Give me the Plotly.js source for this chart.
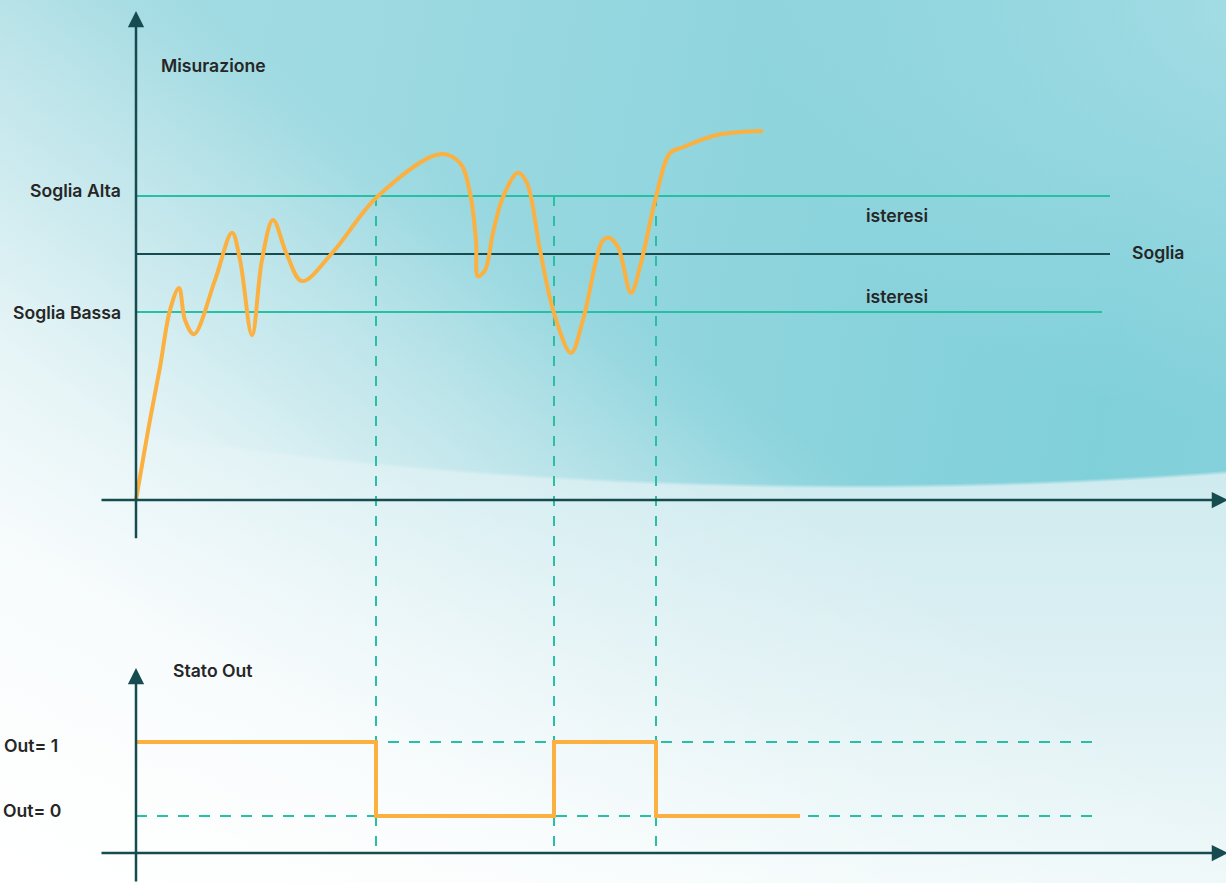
<!DOCTYPE html>
<html>
<head>
<meta charset="utf-8">
<script src="https://cdn.plot.ly/plotly-3.0.1.min.js"></script>
<style>
  html, body { margin: 0; padding: 0; overflow: hidden; background: #ffffff; }
  #wrap { position: relative; width: 1226px; height: 883px; overflow: hidden;
    background: linear-gradient(to bottom, #c3e6eb 0%, #cdeaee 48%, #d2ecf0 58%, #e0f1f4 80%, #eef8f9 100%); }
  #blob { position: absolute; left: 0; top: 0; width: 1226px; height: 883px;
    background:
      linear-gradient(to top right, rgba(205,234,238,1) 0%, rgba(205,234,238,1) 30%, rgba(205,234,238,0.5) 44%, rgba(205,234,238,0) 58%),
      radial-gradient(ellipse 500px 420px at 1250px 0px, rgba(170,222,230,0.85) 0%, rgba(170,222,230,0) 100%),
      linear-gradient(100deg, #a6dce3 0%, #9cd9e1 30%, #8dd4dd 60%, #80d0da 85%, #86d1db 100%);
    -webkit-mask-image: radial-gradient(ellipse 1665px 540px at 850px -50px, #000 0%, #000 99.0%, rgba(0,0,0,0) 99.7%);
    mask-image: radial-gradient(ellipse 1665px 540px at 850px -50px, #000 0%, #000 99.0%, rgba(0,0,0,0) 99.7%);
  }
  #fade { position: absolute; left: 0; top: 0; width: 1226px; height: 883px;
    background: linear-gradient(to top right, rgba(255,255,255,1) 0%, rgba(255,255,255,0.8) 20%, rgba(255,255,255,0.25) 40%, rgba(255,255,255,0) 55%); }
  #chart { position: absolute; left: 0; top: 0; width: 1226px; height: 883px; }
</style>
</head>
<body>
<div id="wrap"><div id="blob"></div><div id="fade"></div><div id="chart"></div></div>
<script>
// ---- Data ----
// Measurement curve: time (arbitrary units) and measured value
const measTime  = [0, 1.4, 2.4, 3.4, 4.3, 4.9, 5.8, 7.9, 9.6, 10.4, 11.6, 12.6, 13.7, 15.1, 16.6, 19.7, 24.1,
                   30.4, 32.4, 33.4, 34.0, 34.2, 34.9, 35.7, 36.7, 38.2, 39.1, 40.4, 41.8, 43.5, 44.7,
                   46.7, 47.3, 48.2, 49.5, 50.4, 52.0, 53.4, 54.7, 58.1, 62.7];
const measValue = [0, 16.3, 27.0, 38.6, 43.1, 36.6, 33.7, 44.7, 54.3, 48.8, 33.5, 48.8, 56.9, 49.8, 44.5, 50.4, 61.6,
                   70.3, 68.5, 62.4, 52.8, 45.5, 46.7, 54.3, 61.6, 66.5, 64.4, 50.8, 38.0, 29.9, 36.6,
                   52.8, 53.3, 51.4, 42.1, 47.4, 61.6, 70.5, 71.7, 74.2, 75.0];

// Thresholds
const thresholdNames  = ["Soglia Alta", "Soglia", "Soglia Bassa"];
const thresholdValues = [61.8, 50.0, 38.2];
const thresholdEnd    = [97.4, 97.4, 96.6];

// Output state switching
const switchTimes = [0, 24.0, 41.8, 52.0, 66.4];
const outStates   = [1, 0, 1, 0, 0];
const outLevels   = [1, 0];
const outLabels   = ["Out= 1", "Out= 0"];
const outGuideStart = [25.2, 0];
const outGuideEnd   = 96.4;

// ---- Styles ----
const ORANGE = "#fbb040";
const TEAL = "#27bfa6";
const DARK = "#164b50";
const TXT = "#262626";
const FONT = "Inter, 'Noto Sans', sans-serif";
const FSIZE = 17.6;

const xRange  = [-13.6, 109.0];
const yRange  = [-77.85, 101.63];
const y2Range = [-0.905, 11.03];
const y2Axis0 = -0.5;   // level of the lower time axis on y2

// convert a y2 value to the y axis scale (same pixel row)
function y2toY(v) {
  return yRange[0] + (v - y2Range[0]) / (y2Range[1] - y2Range[0]) * (yRange[1] - yRange[0]);
}

const traces = [];

// threshold lines
thresholdValues.forEach((v, i) => {
  traces.push({
    x: [0, thresholdEnd[i]], y: [v, v], mode: "lines", yaxis: "y",
    line: {color: i === 1 ? DARK : TEAL, width: 2}, hoverinfo: "skip", showlegend: false
  });
});

// vertical dashed guides at switching instants
switchTimes.slice(1, 4).forEach(t => {
  traces.push({
    x: [t, t], y: [thresholdValues[0], y2toY(y2Axis0)], mode: "lines", yaxis: "y",
    line: {color: TEAL, width: 2, dash: "10px,10px"}, hoverinfo: "skip", showlegend: false
  });
});

// horizontal dashed guides for Out levels
outLevels.forEach((lv, i) => {
  traces.push({
    x: [outGuideStart[i], outGuideEnd], y: [lv, lv], mode: "lines", yaxis: "y2",
    line: {color: TEAL, width: 2, dash: "11px,10px"}, hoverinfo: "skip", showlegend: false
  });
});

// measurement curve
traces.push({
  x: measTime, y: measValue, mode: "lines", yaxis: "y",
  line: {color: ORANGE, width: 4, shape: "spline", smoothing: 1.0},
  hoverinfo: "skip", showlegend: false
});

// output state
traces.push({
  x: switchTimes, y: outStates, mode: "lines", yaxis: "y2",
  line: {color: ORANGE, width: 4, shape: "hv"},
  hoverinfo: "skip", showlegend: false
});

function arrow(x, y, ax, ay, yref) {
  return {x: x, y: y, ax: ax, ay: ay, xref: "x", yref: yref, axref: "x", ayref: yref,
    text: "", showarrow: true, arrowhead: 2, arrowsize: 1.3, arrowwidth: 2.5, arrowcolor: DARK, standoff: 0, startstandoff: 0};
}
function label(text, x, y, yref, xanchor) {
  return {x: x, y: y, xref: "x", yref: yref, text: text, showarrow: false,
    xanchor: xanchor, yanchor: "middle",
    font: {family: FONT, size: FSIZE, color: TXT, weight: 600}};
}

const annotations = [
  // axes
  arrow(0, 99.4, 0, -8.1, "y"),
  arrow(109.2, 0, -3.6, 0, "y"),
  arrow(0, 2.0, 0, -0.905, "y2"),
  arrow(109.2, y2Axis0, -3.6, y2Axis0, "y2"),
  // labels
  label("Misurazione", 2.3, 88.4, "y", "left"),
  label(thresholdNames[0], -1.3, 63.0, "y", "right"),
  label(thresholdNames[2], -1.3, 38.2, "y", "right"),
  label(thresholdNames[1], 99.4, 50.3, "y", "left"),
  label("isteresi", 76.1, 57.8, "y", "center"),
  label("isteresi", 76.1, 41.3, "y", "center"),
  label("Stato Out", 3.5, 1.97, "y2", "left"),
  label(outLabels[0], -13.45, 0.96, "y2", "left"),
  label(outLabels[1], -13.55, 0.08, "y2", "left")
];

const layout = {
  width: 1226, height: 883,
  margin: {l: 0, r: 0, t: 0, b: 0, pad: 0},
  paper_bgcolor: "rgba(0,0,0,0)", plot_bgcolor: "rgba(0,0,0,0)",
  showlegend: false,
  xaxis: {range: xRange, visible: false, fixedrange: true},
  yaxis: {range: yRange, visible: false, fixedrange: true, domain: [0, 1]},
  yaxis2: {range: y2Range, visible: false, fixedrange: true, overlaying: "y"},
  annotations: annotations
};

Plotly.newPlot("chart", traces, layout, {displayModeBar: false, staticPlot: true});
</script>
</body>
</html>
